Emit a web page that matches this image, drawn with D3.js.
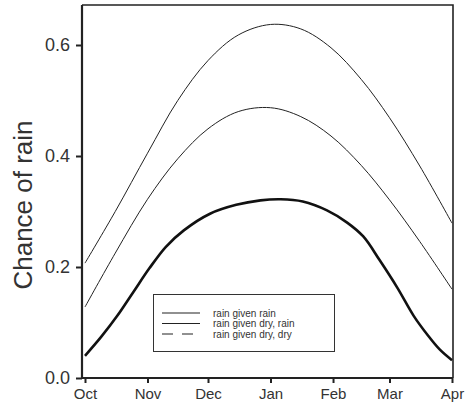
<!DOCTYPE html>
<html><head><meta charset="utf-8">
<script src="https://cdn.jsdelivr.net/npm/d3@7"></script>
<style>
html,body{margin:0;padding:0;background:#fff;}
svg{display:block;font-family:"Liberation Sans",Arial,sans-serif;}
</style></head>
<body><svg id="c" width="465" height="412"></svg>
<script>
const monthLabels = ["Oct","Nov","Dec","Jan","Feb","Mar","Apr"];
const monthDays = [0,31,61,92,123,151,182];
const yTicks = [0.0,0.2,0.4,0.6];
const yTickLabels = ["0.0","0.2","0.4","0.6"];

const daysRR = [0,15,31,46,61,76,92,107,122,137,151,166,182];
const rainGivenRain = [0.207,0.300,0.405,0.500,0.572,0.618,0.637,0.629,0.595,0.538,0.469,0.382,0.279];

const daysDR = [0,15,31,46,61,76,92,107,122,137,151,166,182];
const rainGivenDryRain = [0.128,0.225,0.322,0.395,0.449,0.480,0.487,0.471,0.436,0.383,0.321,0.246,0.160];

const daysDD = [0,8,16,24,32,40,49,62,75,87,97,108,120,130,138,146,155,163,170,176,182];
const rainGivenDryDry = [0.040,0.074,0.112,0.155,0.198,0.236,0.266,0.296,0.312,0.320,0.322,0.318,0.302,0.280,0.255,0.213,0.162,0.112,0.077,0.051,0.032];

const legendLabels = ["rain given rain","rain given dry, rain","rain given dry, dry"];

const svg = d3.select("#c");
const L=82, R=453, T=5, B=378;
const x = d3.scaleLinear().domain([0,182]).range([85,452]);
const y = d3.scaleLinear().domain([0,0.6]).range([378,45]);

svg.append("path").attr("d",`M${L},${T}H${R}V${B}`).attr("fill","none").attr("stroke","#222").attr("stroke-width",1.6);

const xAxis = d3.axisBottom(x).tickValues(monthDays).tickFormat((d,i)=>monthLabels[i]).tickSize(5).tickPadding(5);
const gx = svg.append("g").attr("transform",`translate(0,${B})`).call(xAxis);
gx.select(".domain").remove();
gx.append("line").attr("x1",L).attr("x2",R).attr("stroke","#222").attr("stroke-width",2.2);
gx.selectAll(".tick line").attr("stroke","#222").attr("stroke-width",2);
gx.selectAll(".tick text").attr("font-size",15).attr("fill","#333").attr("font-family","Liberation Sans, Arial, sans-serif");

const yAxis = d3.axisLeft(y).tickValues(yTicks).tickFormat((d,i)=>yTickLabels[i]).tickSize(6).tickPadding(6);
const gy = svg.append("g").attr("transform",`translate(${L},0)`).call(yAxis);
gy.select(".domain").remove();
gy.append("line").attr("y1",T).attr("y2",B+1).attr("stroke","#222").attr("stroke-width",2.2);
gy.selectAll(".tick line").attr("stroke","#222").attr("stroke-width",2);
gy.selectAll(".tick text").attr("font-size",18).attr("fill","#333").attr("font-family","Liberation Sans, Arial, sans-serif");

svg.append("text").attr("transform","translate(32,205) rotate(-90)").attr("text-anchor","middle")
  .attr("font-size",26).attr("fill","#333").text("Chance of rain");

const line = d3.line().x(d=>x(d[0])).y(d=>y(d[1])).curve(d3.curveCatmullRom.alpha(0.5));
const zip=(a,b)=>a.map((d,i)=>[d,b[i]]);
svg.append("path").attr("d",line(zip(daysRR,rainGivenRain))).attr("fill","none").attr("stroke","#222").attr("stroke-width",1);
svg.append("path").attr("d",line(zip(daysDR,rainGivenDryRain))).attr("fill","none").attr("stroke","#222").attr("stroke-width",1);
svg.append("path").attr("d",line(zip(daysDD,rainGivenDryDry))).attr("fill","none").attr("stroke","#111").attr("stroke-width",2.6);

const lg = svg.append("g");
lg.append("rect").attr("x",153.5).attr("y",294.5).attr("width",181).attr("height",57).attr("fill","#fff").attr("stroke","#333").attr("stroke-width",1);
const rowsY=[313,323.5,334];
legendLabels.forEach((t,i)=>{
  lg.append("line").attr("x1",162).attr("x2",i===2?193:200).attr("y1",rowsY[i]).attr("y2",rowsY[i])
    .attr("stroke","#222").attr("stroke-width",1.2).attr("stroke-dasharray", i===2?"11,9":null);
  lg.append("text").attr("x",213).attr("y",rowsY[i]+3.5).attr("font-size",10).attr("fill","#333").text(t);
});
</script></body></html>
